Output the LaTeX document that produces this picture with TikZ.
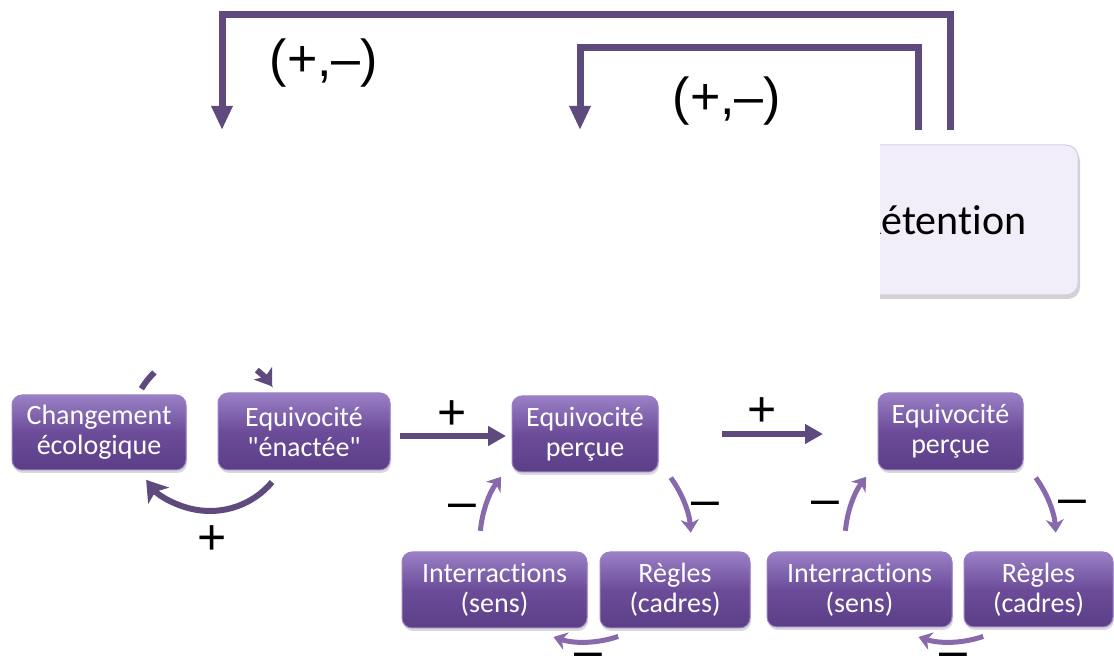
\documentclass[tikz,border=0pt]{standalone}
\usepackage{fontspec}
\setmainfont{Carlito}[Ligatures={CommonOff,TeXOff}]
\newfontfamily\lblfont{Liberation Sans}[Ligatures={CommonOff,TeXOff}]
\usetikzlibrary{arrows.meta,shadows,calc}
\definecolor{conn}{HTML}{5F4A7D}
\definecolor{loopc}{HTML}{8769AC}
\definecolor{btop}{HTML}{9A80C6}
\definecolor{bmid}{HTML}{6C4C99}
\definecolor{bbot}{HTML}{5C3E87}
\definecolor{retfill}{HTML}{F2EEF9}
\definecolor{retdraw}{HTML}{D6CDE5}
\begin{document}
\begin{tikzpicture}[x=1pt,y=1pt,
  purplebox/.style={rectangle, rounded corners=10pt, top color=btop, bottom color=bbot, middle color=bmid,
    draw=btop, line width=1pt, text=white, align=center, font=\fontsize{28}{30}\selectfont, inner sep=0pt,
    drop shadow={shadow xshift=1pt, shadow yshift=-3pt, opacity=0.3}},
  retbox/.style={rectangle, rounded corners=12pt, fill=retfill, draw=retdraw, line width=1pt,
    minimum width=270pt, minimum height=150pt, font=\fontsize{42}{46}\selectfont, inner sep=0pt,
    drop shadow={shadow xshift=2pt, shadow yshift=-4pt, opacity=0.35}},
  thickconn/.style={draw=conn, line width=7pt, line join=miter, -{Triangle[length=24pt,width=20pt]}},
  straightarrow/.style={draw=conn, line width=6pt, -{Triangle[length=18pt,width=19pt]}},
  looparrow/.style={draw=loopc, line width=5pt, -{Stealth[length=13pt,width=18pt,inset=4pt]}},
  bigloop/.style={draw=conn, line width=6pt},
  biglabel/.style={font=\lblfont\fontsize{52}{52}\selectfont, inner sep=0pt},
  signlabel/.style={font=\lblfont\fontsize{50}{50}\selectfont, inner sep=0pt, anchor=base}
]
\useasboundingbox (0,0) rectangle (1114,663);

% Retention box (left part hidden)
\begin{scope}
  \clip (880,0) rectangle (1114,663);
  \node[retbox] (ret) at (943,443) {Rétention};
\end{scope}

% Top feedback connectors
\coordinate (outs) at (950,533);
\coordinate (outtop) at (222,648);
\coordinate (oute) at (222,533);
\coordinate (ins) at (918,533);
\coordinate (intop) at (580,615);
\coordinate (ine) at (580,533);
\draw[thickconn] (outs) |- (outtop) -- (oute);
\draw[thickconn] (ins) |- (intop) -- (ine);
\node[biglabel] (pm1) at (324,600) {(+,–)};
\node[biglabel] (pm2) at (727,562) {(+,–)};

% Boxes
\node[purplebox, minimum width=174pt, minimum height=75pt] (ch) at (99,230.5) {Changement\\écologique};
\node[purplebox, minimum width=172pt, minimum height=77pt] (ee) at (304,231.5) {Equivocité\\"énactée"};
\node[purplebox, minimum width=146pt, minimum height=76pt] (ep1) at (585,229) {Equivocité\\perçue};
\node[purplebox, minimum width=145pt, minimum height=77pt] (ep2) at (950.5,231.5) {Equivocité\\perçue};
\node[purplebox, minimum width=185pt, minimum height=76pt] (in1) at (494.5,73) {Interractions\\(sens)};
\node[purplebox, minimum width=150pt, minimum height=76pt] (rg1) at (675,73) {Règles\\(cadres)};
\node[purplebox, minimum width=185pt, minimum height=75pt] (in2) at (859.5,73.5) {Interractions\\(sens)};
\node[purplebox, minimum width=149pt, minimum height=75pt] (rg2) at (1038.5,73.5) {Règles\\(cadres)};

% Straight arrows
\coordinate (a1s) at (400,227);
\coordinate (a1e) at (506,227);
\coordinate (a2s) at (722,229);
\coordinate (a2e) at (823,229);
\draw[straightarrow] (a1s) -- (a1e);
\draw[straightarrow] (a2s) -- (a2e);
\node[signlabel] (p1) at (452,233.5) {+};
\node[signlabel] (p2) at (762,236.5) {+};

% Big loop around first pair
\coordinate (lc) at (210,233);
\draw[bigloop, -{Stealth[length=20pt,width=26pt,inset=5pt]}] (lc) ++(-40:81) arc[start angle=-40, end angle=-142, radius=81];
\draw[bigloop] (lc) ++(149:80) arc[start angle=149, end angle=134, radius=80];
\draw[bigloop, -{Stealth[length=16pt,width=22pt,inset=4pt]}] (lc) ++(52:76) arc[start angle=52, end angle=35, radius=76];
\node[signlabel] (p0) at (212,108.5) {+};

% Triad loops
\coordinate (c1) at (585,123);
\coordinate (c2) at (950,123);
\foreach \c in {c1,c2}{
  \draw[looparrow] (\c) ++(36:106) arc[start angle=36, end angle=4, radius=106];
  \draw[looparrow] (\c) ++(-71:102) arc[start angle=-71, end angle=-108, radius=102];
  \draw[looparrow] (\c) ++(175:105) arc[start angle=175, end angle=143, radius=105];
}
\node[signlabel] (m1r) at (705,146.5) {–};
\node[signlabel] (m1l) at (462,144.5) {–};
\node[signlabel] (m1b) at (588,-5) {–};
\node[signlabel] (m2r) at (1072,148.5) {–};
\node[signlabel] (m2l) at (825,147.5) {–};
\node[signlabel] (m2b) at (953,-5) {–};
\end{tikzpicture}
\end{document}
